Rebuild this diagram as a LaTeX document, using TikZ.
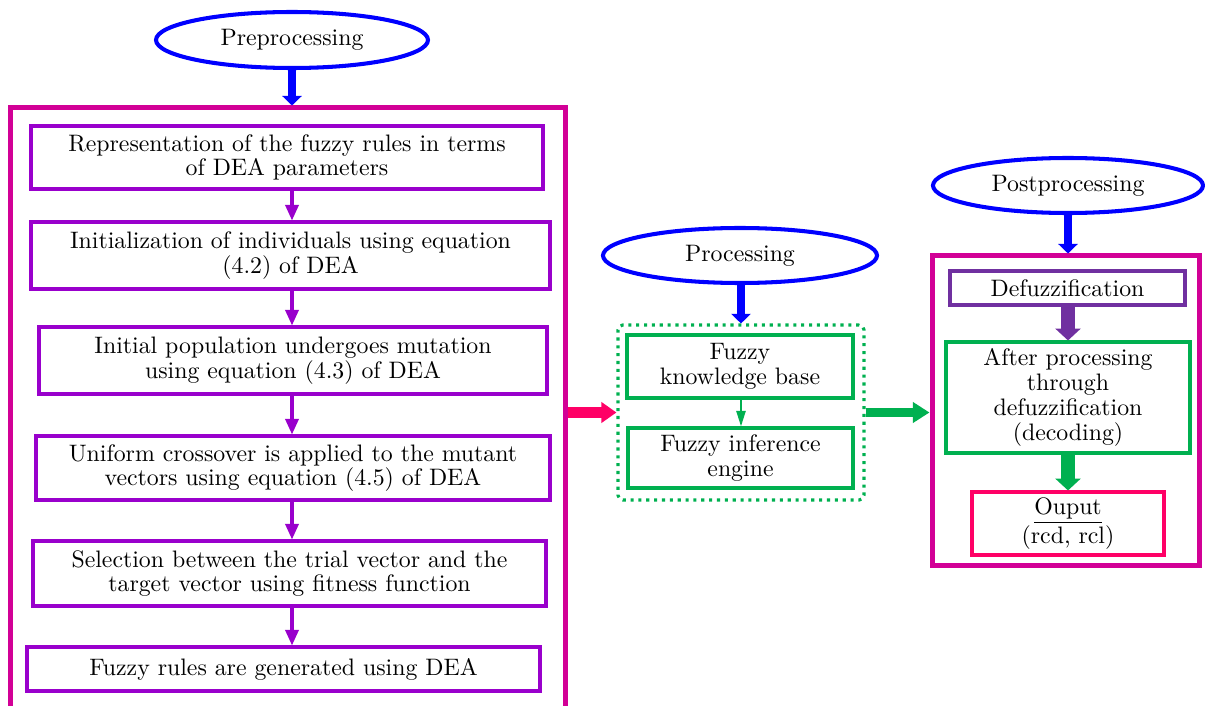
\documentclass[tikz,border=0pt]{standalone}
\usetikzlibrary{shapes.geometric,arrows.meta,calc}
\definecolor{cblue}{RGB}{0,0,255}
\definecolor{cmag}{RGB}{210,0,150}
\definecolor{cvio}{RGB}{153,0,204}
\definecolor{cpink}{RGB}{255,0,102}
\definecolor{cgreen}{RGB}{0,176,80}
\definecolor{cpurp}{RGB}{112,48,160}
\begin{document}
\begin{tikzpicture}[x=0.42pt,y=-0.42pt,
  font=\fontsize{10}{10.4}\selectfont,
  sz/.style 2 args={minimum width=#1*0.42pt, minimum height=#2*0.42pt},
  every node/.style={inner sep=0pt, align=center},
  ell/.style={ellipse, draw=cblue, line width=1.7pt},
  frame/.style={draw=cmag, line width=2.1pt},
  vbox/.style={draw=cvio, line width=1.3pt},
  gbox/.style={draw=cgreen, line width=1.3pt},
  barr/.style={draw=cblue, line width=3.4pt, -{Triangle[width=8pt,length=4pt]}},
  varr/.style={draw=cvio, line width=1.3pt, -{Triangle[width=5.5pt,length=6.5pt]}},
  parr/.style={draw=cpink, line width=4.5pt, -{Triangle[width=8.4pt,length=6.3pt]}},
  garr/.style={draw=cgreen, line width=3.6pt, -{Triangle[width=8.4pt,length=7pt]}},
  gthin/.style={draw=cgreen, line width=0.9pt, -{Triangle[width=3.8pt,length=6.5pt]}},
  fatarr/.style={line width=5.6pt, -{Triangle[width=10.5pt,length=5pt]}},
]
\clip (0,0) rectangle (1205,706);
% left column
\node[ell, sz={272}{56}] (pre) at (292,40) {Preprocessing};
\node[frame, sz={555}{612}] (left) at (287.5,414) {};
\coordinate (ax) at (292,0);
\node[vbox, sz={512}{63}] (b1) at (287,157.5) {Representation of the fuzzy rules in terms\\of DEA parameters};
\node[vbox, sz={519}{67}] (b2) at (290.5,255.5) {Initialization of individuals using equation\\(4.2) of DEA};
\node[vbox, sz={508}{67}] (b3) at (293,360.5) {Initial population undergoes mutation\\using equation (4.3) of DEA};
\node[vbox, sz={514}{64}] (b4) at (293,468) {Uniform crossover is applied to the mutant\\vectors using equation (4.5) of DEA};
\node[vbox, sz={513}{65}] (b5) at (289.5,573.5) {Selection between the trial vector and the\\target vector using fitness function};
\node[vbox, sz={513}{44}] (b6) at (283.5,669) {Fuzzy rules are generated using DEA};
\draw[barr] (pre.south) -- (left.north -| pre.south);
\draw[varr] (b1.south -| ax) -- (b2.north -| ax);
\draw[varr] (b2.south -| ax) -- (b3.north -| ax);
\draw[varr] (b3.south -| ax) -- (b4.north -| ax);
\draw[varr] (b4.south -| ax) -- (b5.north -| ax);
\draw[varr] (b5.south -| ax) -- (b6.north -| ax);
% middle
\node[ell, sz={274}{55}] (proc) at (740,255.5) {Processing};
\node[draw=cgreen, line width=1.3pt, dotted, rounded corners=2pt, sz={246}{175}] (dot) at (741,412.5) {};
\node[gbox, sz={226}{63}] (fkb) at (740,366.5) {Fuzzy\\knowledge base};
\node[gbox, sz={225}{60}] (fie) at (740.5,458) {Fuzzy inference\\engine};
\draw[barr] (proc.south -| dot.north) -- (dot.north);
\draw[gthin] (fkb.south -| dot.north) -- (fie.north -| dot.north);
\draw[parr] (left.east |- dot.west) -- (dot.west);
% right
\node[ell, sz={270}{55}] (post) at (1068,185.5) {Postprocessing};
\node[frame, sz={267}{309}] (right) at (1065.5,410.5) {};
\node[draw=cpurp, line width=1.3pt, sz={235}{34}] (defz) at (1067.5,288) {Defuzzification};
\node[gbox, sz={244}{111}] (after) at (1068,397.5) {After processing\\through\\defuzzification\\(decoding)};
\node[draw=cpink, line width=1.3pt, sz={192}{63}] (out) at (1068,523.5) {\underline{Ouput}\\(rcd, rcl)};
\draw[barr] (post.south) -- (right.north -| post.south);
\draw[garr] (dot.east) -- (right.west |- dot.east);
\draw[fatarr, draw=cpurp] (defz.south -| after.north) -- (after.north);
\draw[fatarr, draw=cgreen] (after.south) -- (out.north);
\end{tikzpicture}
\end{document}
